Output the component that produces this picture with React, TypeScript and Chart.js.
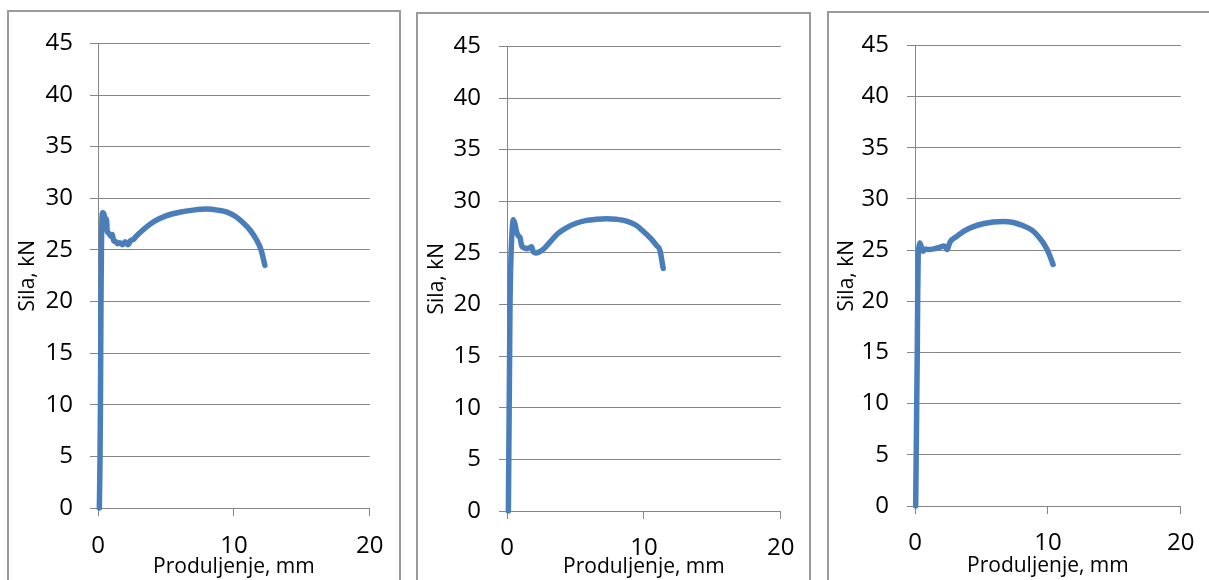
import React, { useEffect, useRef } from "react";
import { Chart, registerables } from "chart.js";

Chart.register(...registerables);

// ---- data ----
const xTickValues = [0, 10, 20];
const yTickValues = [0, 5, 10, 15, 20, 25, 30, 35, 40, 45];
const xAxisTitle = "Produljenje, mm";
const yAxisTitle = "Sila, kN";

const s1X = [0.1, 0.15, 0.18, 0.2, 0.22, 0.25, 0.28, 0.34, 0.45, 0.55, 0.62, 0.68, 0.8, 0.95, 1.05, 1.15, 1.3, 1.45, 1.6, 1.8, 2.0, 2.2, 2.4, 2.6, 2.8, 3.2, 3.6, 4.2, 5.0, 6.0, 7.0, 8.0, 8.8, 9.5, 10.1, 10.7, 11.2, 11.65, 12.0, 12.28];
const s1Y = [0, 5, 10, 15, 20, 25, 27.5, 28.6, 28.4, 27.6, 28.0, 26.8, 26.6, 26.3, 26.5, 25.9, 25.8, 25.6, 25.7, 25.5, 25.8, 25.5, 25.9, 26.0, 26.3, 26.8, 27.25, 27.8, 28.3, 28.65, 28.85, 28.95, 28.85, 28.65, 28.25, 27.6, 26.9, 26.0, 25.0, 23.5];

const s2X = [0.1, 0.13, 0.16, 0.19, 0.22, 0.3, 0.38, 0.46, 0.58, 0.71, 0.85, 0.95, 1.07, 1.25, 1.44, 1.65, 1.8, 1.92, 2.1, 2.29, 2.7, 3.14, 3.7, 4.36, 5.0, 5.82, 6.5, 7.28, 8.0, 8.74, 9.4, 9.95, 10.5, 10.93, 11.17, 11.41];
const s2Y = [0, 5, 10, 15, 20, 25, 27.3, 28.2, 27.8, 27.0, 26.6, 26.5, 25.7, 25.5, 25.4, 25.5, 25.6, 25.1, 25.0, 25.05, 25.4, 26.05, 26.85, 27.45, 27.85, 28.15, 28.25, 28.3, 28.25, 28.08, 27.7, 27.1, 26.4, 25.7, 25.26, 23.5];

const s3X = [0.05, 0.09, 0.13, 0.17, 0.2, 0.24, 0.3, 0.36, 0.48, 0.6, 0.8, 1.09, 1.5, 1.9, 2.17, 2.3, 2.42, 2.55, 2.66, 3.1, 3.75, 4.4, 5.2, 5.9, 6.64, 7.4, 8.1, 8.8, 9.3, 9.8, 10.1, 10.39];
const s3Y = [0, 5, 10, 15, 20, 24.5, 25.3, 25.7, 25.3, 24.9, 25.1, 25.05, 25.15, 25.3, 25.4, 25.3, 25.05, 25.5, 25.83, 26.3, 26.9, 27.3, 27.6, 27.75, 27.8, 27.7, 27.4, 26.95, 26.3, 25.4, 24.6, 23.6];

const series = [
  { xs: s1X, ys: s1Y },
  { xs: s2X, ys: s2Y },
  { xs: s3X, ys: s3Y },
];

// ---- layout (page coordinates) ----
const panels = [
  { boxL: 7, boxT: 10, boxR: 401, plotL: 98, plotR: 370, plotT: 27, plotB: 508, tickPadY: 17, tickPadX: 15.5, yTitlePad: 6, xTitlePad: 0.5 },
  { boxL: 416, boxT: 12, boxR: 811, plotL: 507, plotR: 781, plotT: 31.5, plotB: 511, tickPadY: 18, tickPadX: 14.5, yTitlePad: 6, xTitlePad: 0 },
  { boxL: 827, boxT: 11, boxR: 1211, plotL: 915, plotR: 1191, plotT: 28, plotB: 506, tickPadY: 18, tickPadX: 14.5, yTitlePad: 5, xTitlePad: 1.5 },
];

const BORDER = 2;
const PAGE_H = 580;
const GRID = "#868686";
const LINE = "#4a7ebb";
const FONT = "'Open Sans', sans-serif";

function Panel({ idx }: { idx: number }) {
  const ref = useRef<HTMLCanvasElement | null>(null);
  const p = panels[idx];
  const cL = p.boxL + BORDER;
  const cT = p.boxT + BORDER;
  const cW = p.boxR - BORDER - cL;
  const cH = PAGE_H - cT;

  useEffect(() => {
    if (!ref.current) return;
    const s = series[idx];
    const data = s.xs.map((x, i) => ({ x, y: s.ys[i] }));
    const yAxisW = p.plotL - cL;
    const xAxisH = cH - (p.plotB - cT);
    const chart = new Chart(ref.current, {
      type: "scatter",
      data: {
        datasets: [
          {
            data,
            showLine: true,
            borderColor: LINE,
            backgroundColor: LINE,
            borderWidth: 5.5,
            pointRadius: 0,
            pointHoverRadius: 0,
            borderJoinStyle: "round",
            borderCapStyle: "round",
            cubicInterpolationMode: "monotone",
            clip: false,
          } as any,
        ],
      },
      options: {
        animation: false,
        responsive: false,
        maintainAspectRatio: false,
        events: [],
        layout: {
          padding: { left: 0, top: p.plotT - cT, right: cL + cW - p.plotR, bottom: 0 },
        },
        plugins: { legend: { display: false }, tooltip: { enabled: false } },
        scales: {
          x: {
            type: "linear",
            min: 0,
            max: 20,
            afterBuildTicks: (scale: any) => {
              scale.ticks = xTickValues.map((v) => ({ value: v }));
            },
            afterFit: (scale: any) => {
              scale.height = xAxisH;
            },
            ticks: {
              color: "#000",
              font: { family: FONT, size: 24 },
              padding: p.tickPadX,
              maxRotation: 0,
              autoSkip: false,
            },
            grid: {
              drawOnChartArea: false,
              drawTicks: true,
              tickLength: 8,
              color: GRID,
              lineWidth: 1,
            },
            border: { display: true, color: GRID, width: 1 },
            title: {
              display: true,
              text: xAxisTitle,
              color: "#000",
              font: { family: FONT, size: 21 },
              padding: { top: 0, bottom: p.xTitlePad },
            },
          },
          y: {
            type: "linear",
            min: 0,
            max: 45,
            afterBuildTicks: (scale: any) => {
              scale.ticks = yTickValues.map((v) => ({ value: v }));
            },
            afterFit: (scale: any) => {
              scale.width = yAxisW;
            },
            ticks: {
              color: "#000",
              font: { family: FONT, size: 24 },
              padding: p.tickPadY,
              autoSkip: false,
            },
            grid: {
              drawOnChartArea: true,
              drawTicks: true,
              tickLength: 8,
              color: GRID,
              lineWidth: 1,
            },
            border: { display: true, color: GRID, width: 1 },
            title: {
              display: true,
              text: yAxisTitle,
              color: "#000",
              font: { family: FONT, size: 21 },
              padding: { top: p.yTitlePad, bottom: 0 },
            },
          },
        },
      },
    });
    return () => chart.destroy();
  }, [idx]);

  return (
    <>
      <div
        style={{
          position: "absolute",
          left: p.boxL,
          top: p.boxT,
          width: p.boxR - p.boxL - 2 * BORDER,
          height: 700,
          border: `${BORDER}px solid #9a9a9a`,
          background: "#fff",
        }}
      />
      <canvas
        ref={ref}
        width={cW}
        height={cH}
        style={{ position: "absolute", left: cL, top: cT, width: cW, height: cH }}
      />
    </>
  );
}

export default function App() {
  return (
    <div
      style={{
        position: "fixed",
        left: 0,
        top: 0,
        width: 1209,
        height: 580,
        overflow: "hidden",
        background: "#fff",
      }}
    >
      <Panel idx={0} />
      <Panel idx={1} />
      <Panel idx={2} />
    </div>
  );
}
